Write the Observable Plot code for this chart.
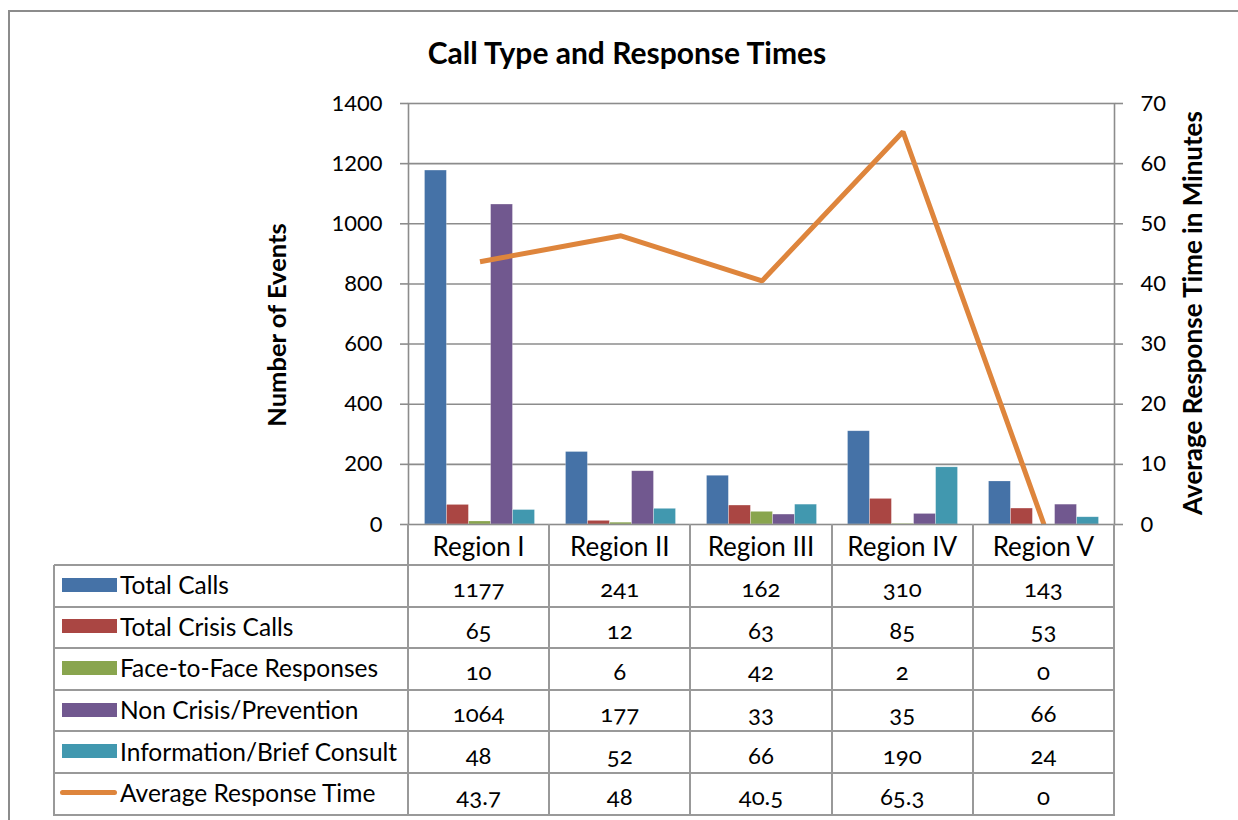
<!DOCTYPE html>
<html><head><meta charset="utf-8">
<script src="https://cdn.jsdelivr.net/npm/d3@7"></script>
<script src="https://cdn.jsdelivr.net/npm/@observablehq/plot@0.6"></script>
<style>
html,body{margin:0;padding:0;background:#fff;overflow:hidden;}
body{font-family:Lato,"Open Sans",sans-serif;color:#000;}
#wrap{position:relative;width:1238px;height:820px;overflow:hidden;background:#fff;}
.frameTop{position:absolute;left:8px;top:10px;width:1230px;height:2px;background:#8c8c8c;}
.frameLeft{position:absolute;left:8px;top:10px;width:2px;height:810px;background:#8c8c8c;}
.title{position:absolute;left:0;width:1254px;top:34px;text-align:center;font-weight:700;font-size:30px;}
.ytitle{position:absolute;font-weight:700;white-space:nowrap;transform:translate(-50%,-50%) rotate(-90deg);}
.hl{position:absolute;height:2px;background:#999;}
.vl{position:absolute;width:2px;background:#999;}
.cell{position:absolute;display:flex;align-items:center;justify-content:center;font-size:24px;font-variant-numeric:oldstyle-nums;font-feature-settings:"onum";}
.lab{position:absolute;display:flex;align-items:center;font-size:24.5px;white-space:nowrap;}
.sw{position:absolute;}
</style></head><body><div id="wrap"><div class="frameTop"></div><div class="frameLeft"></div></div>
<script>
const regions = ["Region I","Region II","Region III","Region IV","Region V"];
const seriesNames = ["Total Calls","Total Crisis Calls","Face-to-Face Responses","Non Crisis/Prevention","Information/Brief Consult"];
const totalCalls = [1177,241,162,310,143];
const crisisCalls = [65,12,63,85,53];
const faceToFace = [10,6,42,2,0];
const nonCrisis = [1064,177,33,35,66];
const infoConsult = [48,52,66,190,24];
const avgResponse = [43.7,48,40.5,65.3,0];
const lineName = "Average Response Time";
const leftTicks = [0,200,400,600,800,1000,1200,1400];
const rightTicks = [0,10,20,30,40,50,60,70];
const colors = ["#4572A7","#AA4643","#89A54E","#71588F","#4198AF"];
const lineColor = "#DE853C";

const seriesValues = [totalCalls, crisisCalls, faceToFace, nonCrisis, infoConsult];
const ratio = leftTicks[leftTicks.length-1] / rightTicks[rightTicks.length-1];

const W = 1238, H = 540, mT = 103, mB = 16, mL = 408, mR = 124;
const bw = (W - mL - mR) / regions.length;
const barW = bw * 0.156;
const side = (bw - barW * seriesNames.length) / 2;

const barMarks = seriesNames.map((s, i) => Plot.barY(
  regions.map((r, j) => ({region: r, value: seriesValues[i][j]})),
  {x: "region", y: "value", fill: colors[i], stroke: "#ffffff", strokeOpacity: 0.35, strokeWidth: 0.6,
   insetLeft: side + barW * i, insetRight: bw - side - barW * (i + 1)}
));
const lineData = regions.map((r, j) => ({region: r, time: avgResponse[j]}));

const grey = "#8c8c8c";
const chart = Plot.plot({
  width: W, height: H, marginTop: mT, marginBottom: mB, marginLeft: mL, marginRight: mR,
  style: {fontFamily: "Lato, 'Open Sans', sans-serif", fontSize: "22px", background: "transparent", overflow: "visible"},
  x: {type: "band", domain: regions, padding: 0, axis: null},
  y: {domain: [0, leftTicks[leftTicks.length-1]]},
  marks: [
    Plot.ruleY(leftTicks.slice(1, -1), {stroke: grey, strokeWidth: 1.6}),
    ...barMarks,
    Plot.line(lineData, {x: "region", y: d => d.time * ratio, stroke: lineColor, strokeWidth: 5, strokeLinejoin: "miter", strokeLinecap: "butt"}),
    Plot.frame({stroke: grey, strokeWidth: 1.6}),
    Plot.axisY(leftTicks, {anchor: "left", tickSize: 8, tickPadding: 18, stroke: grey, strokeWidth: 1.6, fill: "#000", fontSize: 22, tickFormat: d => String(d), label: null}),
    Plot.axisY(leftTicks, {anchor: "right", tickSize: 8, tickPadding: 18, stroke: grey, strokeWidth: 1.6, fill: "#000", fontSize: 22, tickFormat: d => String(d / ratio), label: null})
  ]
});
chart.style.position = "absolute";
chart.style.left = "0px";
chart.style.top = "0px";
const wrap = document.getElementById("wrap");
wrap.appendChild(chart);

function add(cls, css, text) {
  const d = document.createElement("div");
  d.className = cls;
  Object.assign(d.style, css);
  if (text !== undefined) d.textContent = text;
  wrap.appendChild(d);
  return d;
}
add("title", {}, "Call Type and Response Times");
add("ytitle", {left: "276px", top: "325px", fontSize: "25.5px"}, "Number of Events");
add("ytitle", {left: "1192px", top: "313px", fontSize: "26px"}, "Average Response Time in Minutes");

// table
const tableLeft = 54, plotRight = W - mR, headTop = H - mB, rowTop = 565, rowH = 41.6;
const rowsLabels = [...seriesNames, lineName];
const rowsValues = [...seriesValues, avgResponse];
const tableBottom = rowTop + rowH * rowsLabels.length;
for (let k = 0; k <= rowsLabels.length; k++) {
  add("hl", {left: tableLeft + "px", top: (rowTop + rowH * k - 1) + "px", width: (plotRight - tableLeft + 1) + "px"});
}
add("vl", {left: (tableLeft - 1) + "px", top: rowTop + "px", height: (tableBottom - rowTop + 1) + "px"});
for (let j = 0; j <= regions.length; j++) {
  add("vl", {left: (mL + bw * j - 1) + "px", top: headTop + "px", height: (tableBottom - headTop + 1) + "px"});
}
regions.forEach((r, j) => add("cell", {left: (mL + bw * j) + "px", top: (headTop + 1) + "px", width: bw + "px", height: (rowTop - headTop) + "px", fontSize: "26px", fontVariantNumeric: "normal"}, r));
rowsLabels.forEach((lab, k) => {
  const top = rowTop + rowH * k;
  if (k < seriesNames.length) {
    add("sw", {left: "62px", top: (top + rowH / 2 - 8) + "px", width: "55px", height: "14px", background: colors[k]});
  } else {
    add("sw", {left: "60px", top: (top + rowH / 2 - 4) + "px", width: "57px", height: "5px", borderRadius: "3px", background: lineColor});
  }
  add("lab", {left: "120px", top: (top - 1) + "px", height: rowH + "px"}, lab);
  rowsValues[k].forEach((v, j) => add("cell", {left: (mL + bw * j) + "px", top: (top + 2) + "px", width: bw + "px", height: rowH + "px"}, String(v)));
});
</script></body></html>
